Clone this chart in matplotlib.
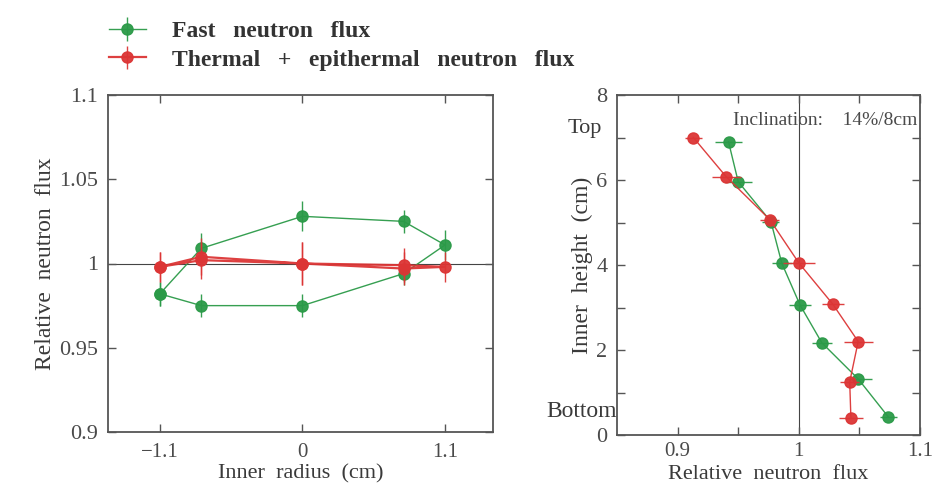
import matplotlib
matplotlib.use("Agg")
import matplotlib.pyplot as plt
from matplotlib.ticker import MultipleLocator, FixedLocator

plt.rcParams['font.family'] = ['Liberation Serif', 'DejaVu Serif']

GREEN = '#2b9a48'
RED = '#dc3535'
TXT = '#3a3a3a'

# Left panel: ring of positions around the inner radius (closed loop)
radius_pos = [-1.1, -0.78, 0.0, 0.78, 1.1, 0.78, 0.0, -0.78, -1.1]
fast_radial = [0.982, 1.009, 1.028, 1.025, 1.011, 0.994, 0.975, 0.975, 0.982]
fast_radial_err = [0.007, 0.009, 0.009, 0.007, 0.009, 0.007, 0.007, 0.007, 0.007]
therm_radial = [0.998, 1.004, 1.000, 0.999, 0.998, 0.997, 1.000, 1.002, 0.998]
therm_radial_err = [0.009, 0.011, 0.013, 0.010, 0.009, 0.010, 0.013, 0.011, 0.009]

# Right panel: vertical profile
therm_height = [7.0, 6.08, 5.07, 4.05, 3.08, 2.2, 1.25, 0.39]
therm_vert = [0.913, 0.940, 0.976, 1.000, 1.028, 1.049, 1.042, 1.043]
therm_vert_err = [0.007, 0.012, 0.008, 0.013, 0.009, 0.012, 0.008, 0.010]
fast_height = [6.9, 5.96, 5.02, 4.04, 3.06, 2.17, 1.32, 0.42]
fast_vert = [0.942, 0.950, 0.977, 0.986, 1.001, 1.019, 1.049, 1.074]
fast_vert_err = [0.011, 0.011, 0.007, 0.008, 0.009, 0.008, 0.011, 0.007]

fig = plt.figure(figsize=(9.44, 4.88), dpi=100)
W, H = 944, 488

def ax_rect(l, t, r, b):
    return [l / W, 1 - b / H, (r - l) / W, (b - t) / H]

ax1 = fig.add_axes(ax_rect(108, 95, 493, 432))
ax2 = fig.add_axes(ax_rect(617, 95, 920, 435))

for ax in (ax1, ax2):
    for s in ax.spines.values():
        s.set_color('#555555')
        s.set_linewidth(1.3)
    ax.tick_params(direction='in', top=True, right=True, length=6, width=1,
                   color='#555555', labelsize=16, labelcolor='#4a4a4a', pad=7)
    ax.tick_params(which='minor', direction='in', top=True, right=True,
                   length=6, width=1, color='#555555')

# Left panel
ax1.axhline(1.0, color='#444444', lw=0.8, zorder=1)
ax1.errorbar(radius_pos, fast_radial, yerr=fast_radial_err, color=GREEN, lw=1,
             marker='o', ms=8, ecolor=GREEN, elinewidth=1, capsize=0,
             alpha=0.95, zorder=3, label='Fast   neutron   flux')
ax1.errorbar(radius_pos, therm_radial, yerr=therm_radial_err, color=RED, lw=1.6,
             marker='o', ms=8, ecolor=RED, elinewidth=1, capsize=0,
             alpha=0.95, zorder=4, label='Thermal   +   epithermal   neutron   flux')
ax1.set_xlim(-1.5, 1.47)
ax1.set_ylim(0.9, 1.1)
ax1.xaxis.set_major_locator(FixedLocator([-1.1, 0, 1.1]))
ax1.set_xticklabels(['\u22121.1', '0', '1.1'])
ax1.yaxis.set_major_locator(FixedLocator([0.9, 0.95, 1.0, 1.05, 1.1]))
ax1.set_yticklabels(['0.9', '0.95', '1', '1.05', '1.1'])
ax1.tick_params(axis='x', labelsize=15, pad=8)
ax1.set_xlabel('Inner  radius  (cm)', fontsize=16, color=TXT)
ax1.xaxis.set_label_coords(0.5, -0.096)
ax1.set_ylabel('Relative  neutron  flux', fontsize=17, color=TXT, labelpad=2)

# Right panel
ax2.axvline(1.0, color='#444444', lw=0.8, zorder=1)
ax2.errorbar(fast_vert, fast_height, xerr=fast_vert_err, color=GREEN, lw=1,
             marker='o', ms=8, ecolor=GREEN, elinewidth=1, capsize=0,
             alpha=0.95, zorder=3)
ax2.errorbar(therm_vert, therm_height, xerr=therm_vert_err, color=RED, lw=1,
             marker='o', ms=8, ecolor=RED, elinewidth=1, capsize=0,
             alpha=0.95, zorder=4)
ax2.set_xlim(0.85, 1.1)
ax2.set_ylim(0, 8)
ax2.xaxis.set_major_locator(FixedLocator([0.9, 1.0, 1.1]))
ax2.set_xticklabels(['0.9', '1', '1.1'])
ax2.xaxis.set_minor_locator(FixedLocator([0.95, 1.05]))
ax2.yaxis.set_major_locator(MultipleLocator(2))
ax2.yaxis.set_minor_locator(MultipleLocator(1))
ax2.tick_params(axis='x', labelsize=15, pad=5)
ax2.set_xlabel('Relative  neutron  flux', fontsize=16, color=TXT)
ax2.xaxis.set_label_coords(0.5, -0.087)
ax2.set_ylabel('Inner  height  (cm)', fontsize=17, color=TXT, labelpad=2)
ax2.text(0.946, 7.4, 'Inclination:    14%/8cm', fontsize=14, color='#4a4a4a',
         ha='left', va='center')
ax2.text(-0.05, 7.2, 'Top', transform=ax2.get_yaxis_transform(), fontsize=16,
         color=TXT, ha='right', va='center')
ax2.text(0.0, 0.55, 'Bottom', transform=ax2.get_yaxis_transform(), fontsize=17,
         color=TXT, ha='right', va='center')

# Legend
h, l = ax1.get_legend_handles_labels()
leg = fig.legend(h, l, loc='upper left', bbox_to_anchor=(92 / W, 1 - 4 / H),
                 frameon=False, prop={'weight': 'bold', 'size': 17},
                 handlelength=1.6, handletextpad=1.1, labelspacing=0.3,
                 borderpad=0.2)
for t in leg.get_texts():
    t.set_color('#333333')

fig.savefig('out.png', dpi=100, facecolor='white')
